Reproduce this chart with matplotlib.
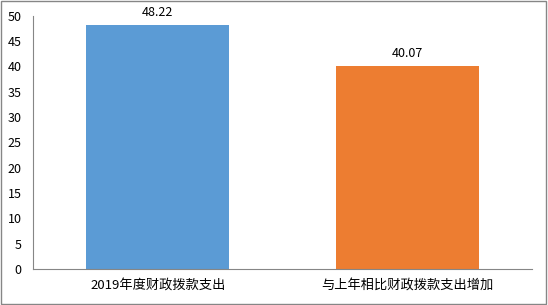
import matplotlib
matplotlib.use("Agg")
import matplotlib.pyplot as plt
from matplotlib.patches import Rectangle

plt.rcParams['font.family'] = ['Noto Sans CJK SC', 'DejaVu Sans']

categories = ["2019年度财政拨款支出", "与上年相比财政拨款支出增加"]
values = [48.22, 40.07]
colors = ["#5B9BD5", "#ED7D31"]
yticks = [0, 5, 10, 15, 20, 25, 30, 35, 40, 45, 50]

fig = plt.figure(figsize=(5.48, 3.05), dpi=100)
ax = fig.add_axes([0.060, 0.118, 0.911, 0.830])
x = range(len(categories))
bars = ax.bar(x, values, width=0.573, color=colors)
for b, v in zip(bars, values):
    ax.text(b.get_x() + b.get_width() / 2, v + 1.2, f"{v:.2f}", ha="center", va="bottom", fontsize=9, color="#000000")
ax.set_xlim(-0.5, 1.5)
ax.set_ylim(0, 50)
ax.set_yticks(yticks)
ax.set_xticks(list(x))
ax.set_xticklabels(categories, fontsize=9.5)
ax.tick_params(axis='y', length=0, labelsize=9, pad=8)
ax.tick_params(axis='x', length=0, pad=7)
for s in ["top", "right"]:
    ax.spines[s].set_visible(False)
ax.spines["left"].set_color("#868686")
ax.spines["bottom"].set_color("#868686")
fig.patches.append(Rectangle((0.002, 0.003), 0.995, 0.993, transform=fig.transFigure, fill=False, edgecolor="#868686", linewidth=1))
fig.savefig("out.png", dpi=100)
